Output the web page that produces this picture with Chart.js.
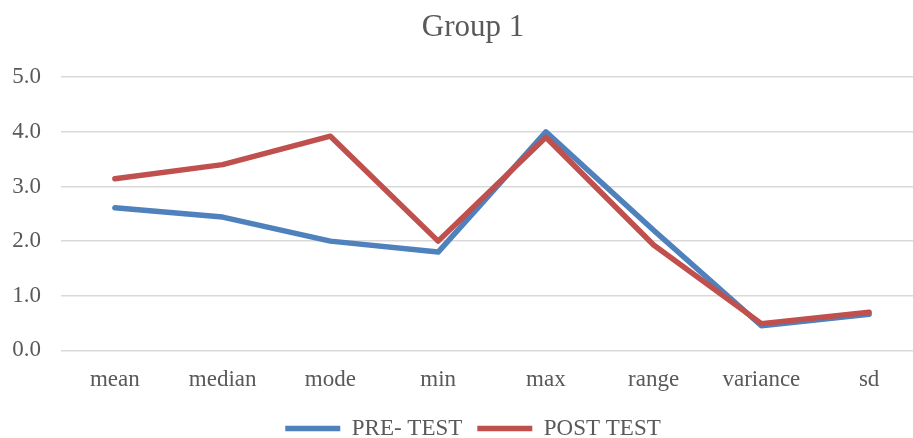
<!DOCTYPE html>
<html>
<head>
<meta charset="utf-8">
<script src="https://cdn.jsdelivr.net/npm/chart.js@4/dist/chart.umd.min.js"></script>
<style>
  html, body { margin: 0; padding: 0; background: #fff; overflow: hidden; }
  #wrap { width: 946px; height: 450px; }
</style>
</head>
<body>
<div id="wrap"><canvas id="chart" width="946" height="450"></canvas></div>
<script>
// chart values
const categories = ['mean', 'median', 'mode', 'min', 'max', 'range', 'variance', 'sd'];
const preTest = [2.61, 2.44, 2.0, 1.8, 4.0, 2.2, 0.45, 0.66];
const postTest = [3.14, 3.4, 3.92, 2.0, 3.9, 1.93, 0.49, 0.7];
const yTicks = [0, 1, 2, 3, 4, 5];

const textColor = '#595959';
const fontFamily = '"Liberation Serif", "Times New Roman", serif';

new Chart(document.getElementById('chart'), {
  type: 'line',
  data: {
    labels: categories,
    datasets: [
      {
        label: 'PRE- TEST',
        data: preTest,
        borderColor: '#4F81BD',
        backgroundColor: '#4F81BD',
        borderWidth: 5.5,
        borderCapStyle: 'round',
        borderJoinStyle: 'round',
        pointRadius: 0,
        tension: 0,
        order: 1
      },
      {
        label: 'POST TEST',
        data: postTest,
        borderColor: '#C0504D',
        backgroundColor: '#C0504D',
        borderWidth: 5.5,
        borderCapStyle: 'round',
        borderJoinStyle: 'round',
        pointRadius: 0,
        tension: 0,
        order: 0 // drawn on top, like the original
      }
    ]
  },
  options: {
    responsive: false,
    animation: false,
    layout: { padding: { left: 0, right: 0, top: 9, bottom: 0 } },
    plugins: {
      title: {
        display: true,
        text: 'Group 1',
        color: textColor,
        font: { family: fontFamily, size: 31, weight: 'normal' },
        padding: { top: 0, bottom: 31 }
      },
      legend: {
        position: 'bottom',
        labels: {
          color: textColor,
          font: { family: fontFamily, size: 23 },
          usePointStyle: true,
          pointStyle: 'line',
          pointStyleWidth: 55,
          padding: 15,
          sort: (a, b) => a.datasetIndex - b.datasetIndex
        }
      },
      tooltip: { enabled: false }
    },
    scales: {
      x: {
        offset: true,
        grid: { display: false },
        border: { display: false },
        ticks: {
          color: textColor,
          font: { family: fontFamily, size: 23 },
          padding: 8,
          maxRotation: 0
        }
      },
      y: {
        min: 0,
        max: 5,
        afterBuildTicks: (scale) => { scale.ticks = yTicks.map(v => ({ value: v })); },
        afterFit: (scale) => { scale.width = 61; },
        grid: { color: '#d9d9d9', lineWidth: 1.5, drawTicks: false },
        border: { display: false },
        ticks: {
          color: textColor,
          font: { family: fontFamily, size: 23 },
          padding: 20,
          callback: (v) => Number(v).toFixed(1)
        }
      },
      // empty right-hand strip so the plot stops short of the canvas edge
      yRight: {
        position: 'right',
        min: 0,
        max: 5,
        afterFit: (scale) => { scale.width = 23; },
        grid: { display: false, drawTicks: false },
        border: { display: false },
        ticks: { display: false }
      }
    }
  }
});
</script>
</body>
</html>
